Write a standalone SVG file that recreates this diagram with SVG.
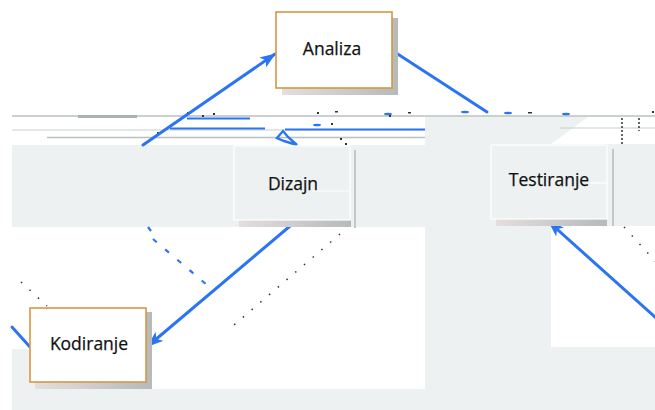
<svg xmlns="http://www.w3.org/2000/svg" width="655" height="410" viewBox="0 0 655 410">
  <defs>
    <linearGradient id="shade" x1="0" y1="0" x2="1" y2="0">
      <stop offset="0" stop-color="#e4dede"/>
      <stop offset="1" stop-color="#b6baba"/>
    </linearGradient>
    <marker id="head" viewBox="0 0 16 12" refX="15" refY="6" markerWidth="16" markerHeight="12" markerUnits="userSpaceOnUse" orient="auto">
      <path d="M0,0 L16,6 L0,12 L4,6 z" fill="#2b74f4"/>
    </marker>
  </defs>
  <style>
    .panel { fill: #edf1f1; }
    .gap { fill: #ffffff; }
    .card { fill: #ffffff; stroke: #d9963f; stroke-width: 1.6; }
    .flat { fill: #edf1f1; stroke: #ffffff; stroke-width: 1.2; }
    .shade { fill: url(#shade); }
    .label { font-family: "Open Sans", "Noto Sans", sans-serif; font-size: 17.5px; fill: #111111; stroke: #111111; stroke-width: 0.25; text-anchor: middle; }
    .flow { stroke: #2b74f4; stroke-width: 3; fill: none; stroke-linecap: round; }
    .thin { stroke: #2b74f4; stroke-width: 2; fill: none; }
    .rule { stroke: #b8c0c0; stroke-width: 1.4; }
    .rule-lt { stroke: #c8cfcf; stroke-width: 1.2; }
    .dots { stroke: #333333; stroke-width: 1.5; stroke-dasharray: 1.5 10; fill: none; }
    .speck { fill: #333333; }
    .divider { stroke: #c4c8c8; stroke-width: 2; }
  </style>

  <!-- background panels -->
  <g id="panels">
    <rect class="panel" x="12" y="145" width="413" height="82"/>
    <polygon class="panel" points="425,117 588,117 551,144 655,144 655,410 12,410 12,388 425,388"/>
    <rect class="gap" x="12" y="227" width="413" height="162"/>
    <rect class="panel" x="12" y="349" width="23" height="40"/>
    <rect class="gap" x="551" y="226" width="104" height="121"/>
  </g>

  <!-- scan rules crossing the upper band -->
  <g id="rules">
    <line class="rule" x1="12" y1="116" x2="655" y2="116"/>
    <rect x="78" y="115" width="59" height="3" fill="#aab2b2"/>
    <line class="rule-lt" x1="12" y1="130" x2="425" y2="130"/>
    <line class="rule" x1="47" y1="137.5" x2="425" y2="137.5"/>
    <line class="rule-lt" x1="560" y1="128" x2="655" y2="128"/>
    <line class="thin" x1="187" y1="118.5" x2="250" y2="118.5"/>
    <line class="thin" x1="170" y1="128.5" x2="265" y2="128.5"/>
    <line class="thin" x1="285" y1="129.5" x2="425" y2="129.5"/>
    <g fill="#2b74f4">
      <ellipse cx="388" cy="114" rx="4" ry="1.3"/>
      <ellipse cx="465" cy="112" rx="4" ry="1.3"/>
      <ellipse cx="508" cy="113" rx="4" ry="1.3"/>
      <ellipse cx="566" cy="114" rx="4" ry="1.3"/>
      <ellipse cx="317" cy="125" rx="4" ry="1.3"/>
    </g>
    <path d="M277,138 L283,131 L288,137 L297,145 L284,141 z" fill="none" stroke="#2b74f4" stroke-width="2.4"/>
    <g class="speck">
      <rect x="187" y="112" width="2" height="2"/>
      <rect x="202" y="115" width="2" height="2"/>
      <rect x="213" y="113" width="2" height="2"/>
      <rect x="157" y="132" width="2" height="2"/>
      <rect x="317" y="112" width="2" height="2"/>
      <rect x="335" y="111" width="3" height="1.5"/>
      <rect x="389" y="115" width="2" height="2"/>
      <rect x="408" y="112" width="3" height="1.5"/>
      <rect x="528" y="112" width="4" height="1.5"/>
      <rect x="652" y="111" width="2" height="2"/>
      <rect x="331" y="123" width="2" height="2"/>
      <rect x="340" y="138" width="2" height="2"/>
      <rect x="345" y="143" width="2" height="2"/>
    </g>
    <line x1="622" y1="118" x2="622" y2="144" stroke="#333" stroke-width="1.5" stroke-dasharray="2 2"/>
    <line x1="639" y1="118" x2="639" y2="131" stroke="#333" stroke-width="1.5" stroke-dasharray="2 2"/>
  </g>

  <!-- connectors -->
  <g id="connectors">
    <line class="flow" x1="143" y1="145" x2="275" y2="54" marker-end="url(#head)"/>
    <line class="flow" x1="393" y1="51" x2="487" y2="112"/>
    <line class="flow" x1="296" y1="221" x2="148" y2="346" marker-end="url(#head)"/>
    <line class="flow" x1="656" y1="318" x2="549" y2="222" marker-end="url(#head)"/>
    <line class="flow" x1="12" y1="327" x2="30" y2="347"/>
    <line x1="148" y1="227" x2="151" y2="231" stroke="#2b74f4" stroke-width="2.2"/>
    <line x1="153" y1="239" x2="207" y2="285" stroke="#2b74f4" stroke-width="2.2" stroke-dasharray="5 11"/>
    <line class="dots" x1="340" y1="234" x2="227" y2="331"/>
    <line class="dots" x1="21" y1="282" x2="47" y2="306"/>
    <line class="dots" x1="624" y1="227" x2="656" y2="262"/>
  </g>

  <!-- nodes -->
  <g id="analiza">
    <rect class="shade" x="282" y="18" width="116" height="77"/>
    <rect class="card" x="276" y="12" width="116" height="76"/>
    <text class="label" x="332" y="55">Analiza</text>
  </g>

  <g id="dizajn">
    <rect class="shade" x="239" y="220" width="112" height="7"/>
    <line class="divider" x1="355" y1="150" x2="355" y2="228"/>
    <rect class="flat" x="234" y="146" width="116" height="74"/>
    <line x1="312" y1="191" x2="350" y2="191" stroke="#ffffff" stroke-width="1.2"/>
    <text class="label" x="293" y="190">Dizajn</text>
  </g>

  <g id="testiranje">
    <rect class="shade" x="496" y="219" width="111" height="7"/>
    <line class="divider" x1="613" y1="149" x2="613" y2="226"/>
    <rect class="flat" x="491" y="145" width="116" height="74"/>
    <line x1="590" y1="183" x2="607" y2="183" stroke="#ffffff" stroke-width="1.2"/>
    <text class="label" x="549" y="186">Testiranje</text>
  </g>

  <g id="kodiranje">
    <rect class="shade" x="35" y="312" width="117" height="77"/>
    <rect class="card" x="30" y="308" width="116" height="74"/>
    <text class="label" x="89" y="350">Kodiranje</text>
  </g>
</svg>
